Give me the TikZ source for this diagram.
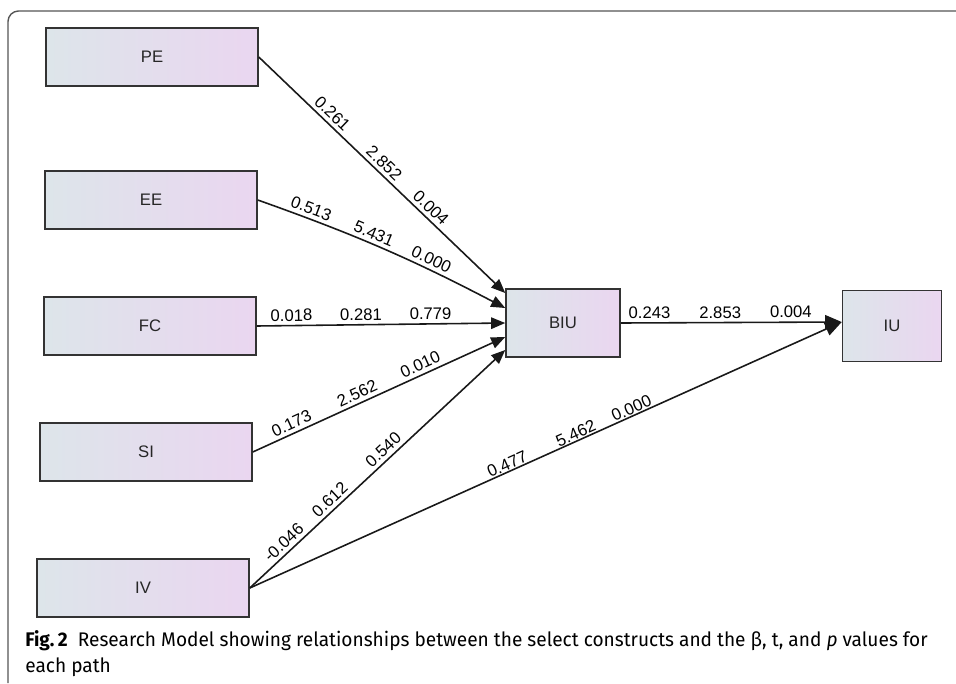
\documentclass[tikz,border=0pt]{standalone}
\usepackage{fontspec}
\setmainfont{Liberation Sans}
\newfontfamily\capfont[FakeStretch=0.97]{Fira Sans}
\usetikzlibrary{arrows.meta}
\definecolor{boxleft}{HTML}{DDE5EA}
\definecolor{boxright}{HTML}{EAD6F0}
\definecolor{frameline}{HTML}{555555}
\tikzset{
  construct/.style={draw=black!80, line width=0.9pt, left color=boxleft, right color=boxright,
    font=\fontsize{9.5}{11}\selectfont, text=black!85, minimum height=1.16cm, inner sep=0pt},
  link/.style={draw=black!90, line width=0.9pt, -{Triangle[length=8pt,width=6.5pt]}},
  biglink/.style={link, -{Triangle[length=9.5pt,width=8pt]}},
  coef/.style={sloped, above, font=\fontsize{9.5}{11}\selectfont, inner sep=2pt}
}
\begin{document}
\begin{tikzpicture}[x=0.02cm, y=-0.02cm]
  \useasboundingbox (0,0) rectangle (956,683);

  % Marco de la figura
  \draw[frameline, line width=0.8pt, rounded corners=6pt] (956,11) -- (8,11) -- (8,683);

  % Constructos de entrada
  \foreach \n/\x/\y in {PE/152/57, EE/151/200, FC/150/326, SI/146/452, IV/143/588}
    \node[construct, minimum width=4.24cm] (\n) at (\x,\y) {\n};

  % Intencion y uso
  \node[construct, minimum width=2.28cm, minimum height=1.36cm] (BIU) at (563,323) {BIU};
  \node[construct, minimum width=1.98cm, minimum height=1.42cm] (IU) at (892,326) {IU};

  % Caminos hacia BIU
  \draw[link] (PE.east) -- node[coef, pos=0.27] {0.261} node[coef, pos=0.48] {2.852}
    node[coef, pos=0.67] {0.004} ([yshift=0.6cm]BIU.west);
  \draw[link] (EE.east) to[bend left=4] node[coef, pos=0.18] {0.513} node[coef, pos=0.44] {5.431}
    node[coef, pos=0.69] {0.000} ([yshift=0.3cm]BIU.west);
  \draw[link] (FC.east) -- node[coef, pos=0.14] {0.018} node[coef, pos=0.42] {0.281}
    node[coef, pos=0.70] {0.779} (BIU.west);
  \draw[link] (SI.east) -- node[coef, pos=0.17] {0.173} node[coef, pos=0.43] {2.562}
    node[coef, pos=0.68] {0.010} ([yshift=-0.28cm]BIU.west);
  \draw[link] (IV.east) -- node[coef, pos=0.16] {-0.046} node[coef, pos=0.34] {0.612}
    node[coef, pos=0.55] {0.540} ([yshift=-0.54cm]BIU.west);

  % Caminos hacia IU
  \draw[biglink] (BIU.east) -- node[coef, pos=0.13] {0.243} node[coef, pos=0.45] {2.853}
    node[coef, pos=0.77] {0.004} ([yshift=0.08cm]IU.west);
  \draw[biglink] (IV.east) -- node[coef, pos=0.44, yshift=-1.5pt] {0.477} node[coef, pos=0.556, yshift=-1.5pt] {5.462}
    node[coef, pos=0.65, yshift=-1.5pt] {0.000} ([yshift=0.08cm]IU.west);

  % Pie de figura
  \node[anchor=base west, align=left, inner sep=0pt, font=\capfont\fontsize{11.2}{14.7}\selectfont]
    (caption) at (25,672) {\textbf{Fig.\,2}\ \ Research Model showing relationships between the select constructs and the β, t, and \textit{p} values for\\each path};

\end{tikzpicture}
\end{document}
